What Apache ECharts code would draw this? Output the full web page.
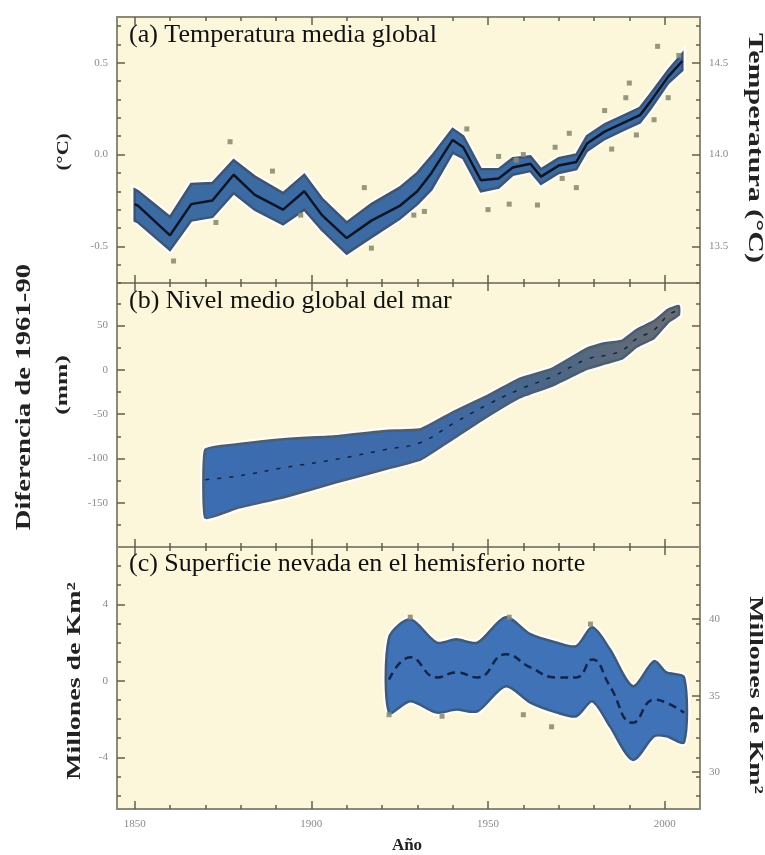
<!DOCTYPE html>
<html>
<head>
<meta charset="utf-8">
<script src="https://cdn.jsdelivr.net/npm/echarts@6/dist/echarts.min.js"></script>
<style>
  html, body { margin: 0; padding: 0; background: #ffffff; }
  #chart { width: 765px; height: 855px; }
</style>
</head>
<body>
<div id="chart"></div>
<script>
// ---------------- DATA ----------------
// (a) Global mean temperature, difference from 1961-90 (°C)
const tempYears  = [1850, 1851, 1860, 1866, 1872, 1878, 1884, 1892, 1898, 1903, 1910, 1917, 1925, 1930, 1934, 1940, 1943, 1948, 1953, 1957, 1962, 1965, 1970, 1975, 1978, 1983, 1988, 1993, 1996, 2001, 2005];
const tempSmooth = [-0.27, -0.28, -0.44, -0.27, -0.25, -0.11, -0.22, -0.30, -0.20, -0.33, -0.455, -0.36, -0.28, -0.20, -0.10, 0.08, 0.04, -0.14, -0.13, -0.07, -0.05, -0.12, -0.06, -0.04, 0.06, 0.125, 0.17, 0.215, 0.29, 0.425, 0.51];
const tempUpper  = [-0.19, -0.20, -0.34, -0.16, -0.155, -0.03, -0.12, -0.21, -0.11, -0.24, -0.37, -0.27, -0.18, -0.10, -0.01, 0.14, 0.10, -0.08, -0.08, -0.02, -0.01, -0.08, -0.02, 0.00, 0.10, 0.165, 0.21, 0.255, 0.33, 0.46, 0.55];
const tempLower  = [-0.36, -0.37, -0.52, -0.36, -0.34, -0.21, -0.30, -0.38, -0.30, -0.41, -0.54, -0.45, -0.35, -0.27, -0.19, 0.01, -0.02, -0.20, -0.18, -0.11, -0.09, -0.16, -0.10, -0.08, 0.02, 0.085, 0.13, 0.175, 0.25, 0.39, 0.46];
const tempPtYears  = [1861, 1873, 1877, 1889, 1897, 1915, 1917, 1929, 1932, 1944, 1950, 1953, 1956, 1958, 1960, 1964, 1969, 1971, 1973, 1975, 1983, 1985, 1989, 1990, 1992, 1997, 1998, 2001, 2004];
const tempPtValues = [-0.58, -0.37, 0.07, -0.09, -0.33, -0.18, -0.51, -0.33, -0.31, 0.14, -0.30, -0.01, -0.27, -0.03, 0.00, -0.275, 0.04, -0.13, 0.116, -0.18, 0.24, 0.03, 0.31, 0.39, 0.107, 0.19, 0.59, 0.31, 0.54];

// (b) Global mean sea level, difference from 1961-90 (mm)
const seaYears = [1870, 1879, 1893, 1907, 1921, 1931, 1940, 1950, 1959, 1968, 1978, 1983, 1988, 1992, 1997, 2001, 2004];
const seaMean  = [-124, -120, -110, -101, -90, -82, -61, -39, -22, -8, 12, 16, 22, 35, 45, 62, 67];
const seaUpper = [-90, -84, -78, -75, -69, -67, -48, -29, -10, 1, 24, 30, 33, 45, 55, 68, 72];
const seaLower = [-167, -156, -143, -127, -112, -101, -78, -52, -31, -18, 1, 7, 13, 26, 36, 54, 62];

// (c) Northern Hemisphere snow cover (million km², difference from 1961-90)
const snowYears = [1922, 1928, 1935.5, 1941, 1947, 1955, 1962, 1969.5, 1975, 1979.5, 1984.5, 1991, 1997, 2000.5, 2005.5];
const snowMean  = [0.07, 1.23, 0.18, 0.44, 0.18, 1.39, 0.70, 0.18, 0.18, 1.12, -0.28, -2.19, -0.98, -1.14, -1.66];
const snowUpper = [2.26, 3.22, 2.00, 2.17, 2.00, 3.33, 2.44, 2.00, 1.82, 2.80, 1.65, -0.28, 1.03, 0.44, 0.18];
const snowLower = [-1.66, -1.07, -1.66, -1.50, -1.59, -0.28, -1.14, -1.66, -1.85, -1.07, -2.38, -4.13, -2.90, -2.90, -3.20];
const snowPtYears  = [1922, 1928, 1937, 1956, 1960, 1968, 1979];
const snowPtValues = [-1.77, 3.33, -1.85, 3.33, -1.77, -2.40, 2.97];

// Tick / label values
const xMinorTicks = [1850, 1860, 1870, 1880, 1890, 1900, 1910, 1920, 1930, 1940, 1950, 1960, 1970, 1980, 1990, 2000];
const xMajorTicks = [1850, 1900, 1950, 2000];
const aMinorTicks = [-0.7, -0.6, -0.5, -0.4, -0.3, -0.2, -0.1, 0, 0.1, 0.2, 0.3, 0.4, 0.5, 0.6, 0.7];
const aLabels     = [-0.5, 0, 0.5];
const aRightMinor = [13.3, 13.4, 13.5, 13.6, 13.7, 13.8, 13.9, 14.0, 14.1, 14.2, 14.3, 14.4, 14.5, 14.6, 14.7];
const aRightLabels = [13.5, 14.0, 14.5];
const bMinorTicks = [-175, -150, -125, -100, -75, -50, -25, 0, 25, 50, 75];
const bLabels     = [-150, -100, -50, 0, 50];
const cMinorTicks = [-6, -5, -4, -3, -2, -1, 0, 1, 2, 3, 4, 5, 6];
const cLabels     = [-4, 0, 4];
const cRightLabels = [30, 35, 40];

// ---------------- LAYOUT / STYLE ----------------
const X_MIN = 1845, X_MAX = 2010;
const GRIDS = [
  { left: 117, right: 65, top: 17,  height: 266 },
  { left: 117, right: 65, top: 283, height: 264 },
  { left: 117, right: 65, top: 547, height: 262 }
];
const TICK = '#5f5f52';
const LBL = '#8a8a8a';
const SERIF = '"Liberation Serif", "DejaVu Serif", serif';

const xAxes = [], yAxes = [];
function addX(grid, pos, ticks, len, labels) {
  xAxes.push({
    type: 'value', gridIndex: grid, position: pos, min: X_MIN, max: X_MAX,
    axisLine: { show: false, onZero: false }, splitLine: { show: false },
    axisTick: { show: true, inside: true, length: len, customValues: ticks, lineStyle: { color: TICK, width: 1.5 } },
    axisLabel: labels ? { show: true, customValues: labels, color: LBL, fontSize: 11, fontFamily: SERIF, margin: 10, formatter: v => String(v) } : { show: false }
  });
  return xAxes.length - 1;
}
function addY(grid, pos, min, max, ticks, len, labels, fmt) {
  yAxes.push({
    type: 'value', gridIndex: grid, position: pos, min: min, max: max,
    axisLine: { show: false, onZero: false }, splitLine: { show: false },
    axisTick: { show: true, inside: true, length: len, customValues: ticks, lineStyle: { color: TICK, width: 1.5 } },
    axisLabel: labels ? { show: true, customValues: labels, color: LBL, fontSize: 11, fontFamily: SERIF, margin: 9, formatter: fmt } : { show: false }
  });
  return yAxes.length - 1;
}

const xMain = [];
for (let g = 0; g < 3; g++) {
  xMain.push(addX(g, 'bottom', xMinorTicks, 4, g === 2 ? xMajorTicks : null));
  addX(g, 'bottom', xMajorTicks, 8, null);
  addX(g, 'top', xMinorTicks, 4, null);
  addX(g, 'top', xMajorTicks, 8, null);
}
const f1 = v => Number(v).toFixed(1);
const f0 = v => String(Math.round(v));
// panel a
const yA = addY(0, 'left', -0.7, 0.75, aMinorTicks, 4, null);
addY(0, 'left', -0.7, 0.75, aLabels, 8, aLabels, f1);
addY(0, 'right', 13.3, 14.75, aRightMinor, 4, null);
addY(0, 'right', 13.3, 14.75, aRightLabels, 8, aRightLabels, f1);
// panel b
const yB = addY(1, 'left', -200, 98, bMinorTicks, 4, null);
addY(1, 'left', -200, 98, bLabels, 8, bLabels, f0);
addY(1, 'right', -200, 98, bMinorTicks, 4, null);
addY(1, 'right', -200, 98, bLabels, 8, null);
// panel c
const yC = addY(2, 'left', -6.7, 7.0, cMinorTicks, 4, null);
addY(2, 'left', -6.7, 7.0, cLabels, 8, cLabels, f0);
addY(2, 'right', -6.7, 7.0, cMinorTicks, 4, null);
addY(2, 'right', 27.6, 44.7, cRightLabels, 8, cRightLabels, f0);

function zip(xs, ys) { return xs.map((x, i) => [x, ys[i]]); }

// uncertainty band: polygon built through the axis scales (api.coord)
function band(xi, yi, xs, up, lo, fill, edge, smooth) {
  return {
    type: 'custom', xAxisIndex: xi, yAxisIndex: yi, clip: true, z: 2,
    data: [[xs[0], up[0]]],
    renderItem: function (params, api) {
      const pts = [];
      for (let i = 0; i < xs.length; i++) pts.push(api.coord([xs[i], up[i]]));
      for (let i = xs.length - 1; i >= 0; i--) pts.push(api.coord([xs[i], lo[i]]));
      return {
        type: 'group',
        children: [
          { type: 'polygon', shape: { points: pts, smooth: smooth },
            style: { fill: 'none', stroke: 'rgba(255,255,255,0.9)', lineWidth: 7 } },
          { type: 'polygon', shape: { points: pts, smooth: smooth },
            style: { fill: fill, stroke: edge, lineWidth: 2.5 } }
        ]
      };
    }
  };
}
function centre(xi, yi, xs, ys, color, width, type, smooth) {
  return { type: 'line', xAxisIndex: xi, yAxisIndex: yi, data: zip(xs, ys), symbol: 'none', smooth: smooth,
    lineStyle: { color: color, width: width, type: type }, z: 4 };
}
function points(xi, yi, xs, ys) {
  return { type: 'scatter', xAxisIndex: xi, yAxisIndex: yi, data: zip(xs, ys), symbol: 'rect', symbolSize: 5,
    itemStyle: { color: '#8c8c74', opacity: 0.9 }, z: 5 };
}

const seaFill = new echarts.graphic.LinearGradient(0, 0, 1, 0, [
  { offset: 0, color: '#3b6db2' }, { offset: 0.5, color: '#3f6aa8' },
  { offset: 0.72, color: '#4b6686' }, { offset: 1, color: '#6a6d70' }
]);

const series = [
  band(xMain[0], yA, tempYears, tempUpper, tempLower, '#3c6aa3', '#3e5470', 0),
  centre(xMain[0], yA, tempYears, tempSmooth, '#0c1526', 2.5, 'solid', false),
  points(xMain[0], yA, tempPtYears, tempPtValues),
  band(xMain[1], yB, seaYears, seaUpper, seaLower, seaFill, '#4c5d70', 0.12),
  centre(xMain[1], yB, seaYears, seaMean, '#14223d', 1.5, [4, 8], 0.4),
  band(xMain[2], yC, snowYears, snowUpper, snowLower, '#3f72b6', '#3f5a78', 0.28),
  centre(xMain[2], yC, snowYears, snowMean, '#12244a', 2.5, [8, 5], 0.5),
  points(xMain[2], yC, snowPtYears, snowPtValues)
];

const titleStyle = { fontFamily: SERIF, fontSize: 26, fill: '#111' };
const nameStyle = (size) => ({ fontFamily: SERIF, fontSize: size, fontWeight: 'bold', fill: '#222', align: 'center', verticalAlign: 'middle' });

const graphic = [
  { type: 'text', left: 129, top: 22, style: Object.assign({ text: '(a) Temperatura media global' }, titleStyle), z: 10 },
  { type: 'text', left: 129, top: 288, style: Object.assign({ text: '(b) Nivel medio global del mar' }, titleStyle), z: 10 },
  { type: 'text', left: 129, top: 551, style: Object.assign({ text: '(c) Superficie nevada en el hemisferio norte' }, titleStyle), z: 10 },
  { type: 'text', x: 64, y: 152, rotation: Math.PI / 2, scaleX: 1.3, style: Object.assign({ text: '(°C)' }, nameStyle(16)) },
  { type: 'text', x: 25, y: 397, rotation: Math.PI / 2, scaleX: 1.37, style: Object.assign({ text: 'Diferencia de 1961-90' }, nameStyle(21)) },
  { type: 'text', x: 63, y: 385, rotation: Math.PI / 2, scaleX: 1.5, style: Object.assign({ text: '(mm)' }, nameStyle(17)) },
  { type: 'text', x: 75, y: 681, rotation: Math.PI / 2, scaleX: 1.47, style: Object.assign({ text: 'Millones de Km²' }, nameStyle(19)) },
  { type: 'text', x: 754, y: 148, rotation: -Math.PI / 2, scaleX: 1.5, style: Object.assign({ text: 'Temperatura (°C)' }, nameStyle(20)) },
  { type: 'text', x: 755, y: 695, rotation: -Math.PI / 2, scaleX: 1.47, style: Object.assign({ text: 'Millones de Km²' }, nameStyle(19)) },
  { type: 'text', x: 407, y: 846, style: Object.assign({ text: 'Año' }, nameStyle(17)) }
];

const chart = echarts.init(document.getElementById('chart'), null, { renderer: 'canvas' });
chart.setOption({
  animation: false,
  backgroundColor: '#ffffff',
  grid: GRIDS.map(g => Object.assign({ show: true, backgroundColor: '#fcf6da', borderColor: '#8a8a7a', borderWidth: 2, containLabel: false }, g)),
  xAxis: xAxes,
  yAxis: yAxes,
  series: series,
  graphic: graphic
});
</script>
</body>
</html>
